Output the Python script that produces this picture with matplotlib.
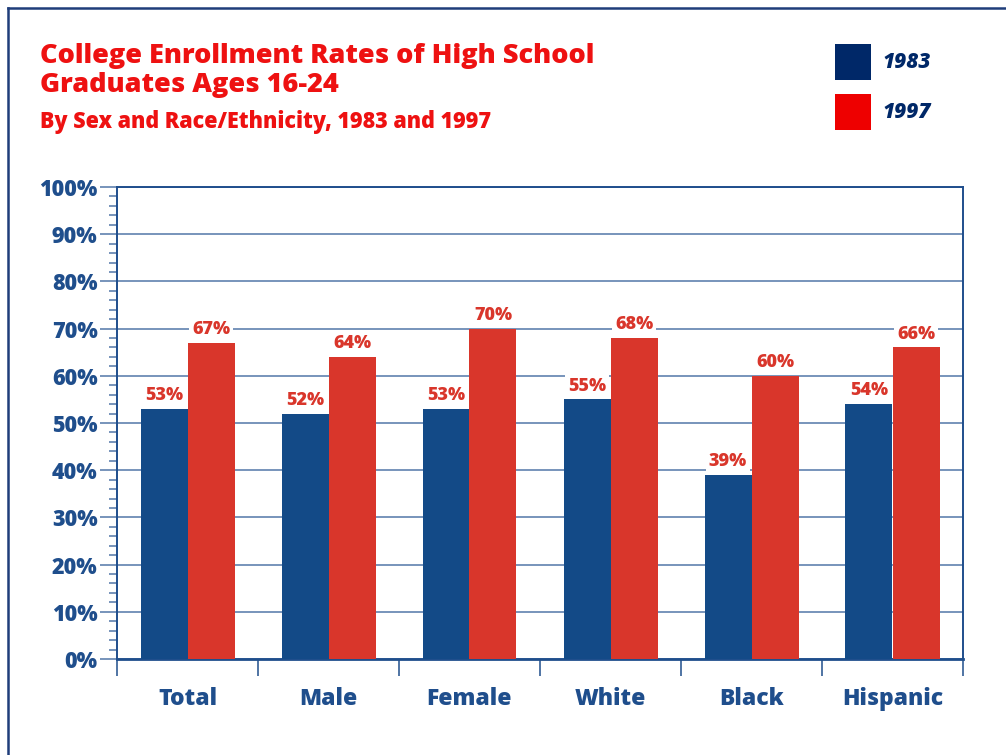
import numpy as np
import matplotlib.pyplot as plt
from matplotlib.ticker import MultipleLocator, FixedLocator
from matplotlib.lines import Line2D
from matplotlib.patches import Rectangle

categories = ['Total', 'Male', 'Female', 'White', 'Black', 'Hispanic']
rates_1983 = [53, 52, 53, 55, 39, 54]
rates_1997 = [67, 64, 70, 68, 60, 66]
years = ['1983', '1997']

navy = '#1f4e8c'
blue = '#134a87'
red = '#d9362b'
grid_c = '#5277a8'
title_red = '#ee1111'

plt.rcParams['font.family'] = ['Open Sans', 'DejaVu Sans']

fig = plt.figure(figsize=(10.06, 7.55), dpi=100)
ax = fig.add_axes([117 / 1006, 1 - 659 / 755, (963 - 117) / 1006, (659 - 187) / 755])

x = np.arange(len(categories))
w = 1 / 3
ax.bar(x - w / 2, rates_1983, w, color=blue, zorder=3)
ax.bar(x + w / 2, rates_1997, w, color=red, zorder=3)

# value labels sit on a white patch that hides the grid line
for i in range(len(categories)):
    for xx, v in [(x[i] - w / 2, rates_1983[i]), (x[i] + w / 2, rates_1997[i])]:
        ax.text(xx, v + 2.8, f'{v}%', ha='center', va='center', color=red,
                fontsize=13, fontweight='heavy', zorder=4,
                bbox=dict(facecolor='white', edgecolor='none', pad=2))

ax.set_xlim(-0.5, len(categories) - 0.5)
ax.set_ylim(0, 100)
ax.yaxis.set_major_locator(FixedLocator(range(0, 101, 10)))
ax.yaxis.set_minor_locator(MultipleLocator(2))
ax.set_yticklabels([f'{t}%' for t in range(0, 101, 10)])
ax.grid(axis='y', color=grid_c, linewidth=1.1, zorder=0)
ax.tick_params(axis='y', which='major', length=12, width=1.1, color=grid_c,
               labelsize=15.5, labelcolor=navy, pad=2)
ax.tick_params(axis='y', which='minor', length=6, width=1.1, color=grid_c)
for lab in ax.get_yticklabels():
    lab.set_fontweight('heavy')

ax.xaxis.set_major_locator(FixedLocator(x))
ax.xaxis.set_minor_locator(FixedLocator(np.arange(-0.5, len(categories), 1)))
ax.set_xticklabels(categories)
ax.tick_params(axis='x', which='major', length=0, labelsize=16.5, labelcolor=navy, pad=20)
ax.tick_params(axis='x', which='minor', length=12, width=1.1, color=navy)
for lab in ax.get_xticklabels():
    lab.set_fontweight('heavy')

for s in ax.spines.values():
    s.set_color(navy)
    s.set_linewidth(1.4)
ax.spines['bottom'].set_linewidth(2)
ax.set_axisbelow(True)

# outer frame
fig.add_artist(Line2D([8 / 1006, 8 / 1006], [0, 1 - 8 / 755], color='#1f3d7a', lw=1.8))
fig.add_artist(Line2D([8 / 1006, 1], [1 - 8 / 755, 1 - 8 / 755], color='#1f3d7a', lw=1.8))

fig.text(40 / 1006, 1 - 63 / 755, 'College Enrollment Rates of High School',
         color=title_red, fontsize=19.5, fontweight='heavy', va='baseline')
fig.text(40 / 1006, 1 - 92 / 755, 'Graduates Ages 16-24',
         color=title_red, fontsize=19.5, fontweight='heavy', va='baseline')
fig.text(40 / 1006, 1 - 128 / 755, 'By Sex and Race/Ethnicity, 1983 and 1997',
         color=title_red, fontsize=15.5, fontweight='heavy', va='baseline')

# legend
for (y0, c, lab) in [(44, '#002868', years[0]), (94, '#ee0000', years[1])]:
    fig.add_artist(Rectangle((835 / 1006, 1 - (y0 + 36) / 755), 36 / 1006, 36 / 755,
                             facecolor=c, edgecolor='none'))
    fig.text(882 / 1006, 1 - (y0 + 18) / 755, lab, color='#002868', fontsize=15,
             fontweight='heavy', fontstyle='italic', va='center')

fig.savefig('out.png', dpi=100)
